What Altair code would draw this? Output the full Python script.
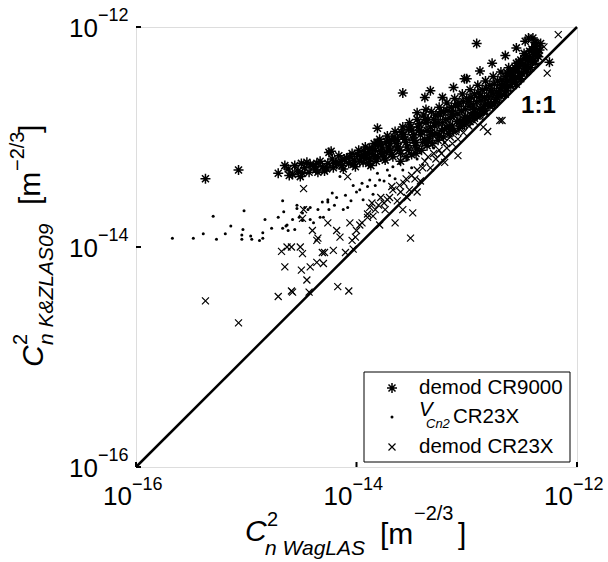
import altair as alt
import pandas as pd

# ---------------- data (log10 of the plotted values) ----------------
cr9000 = [
    (-15.37, -13.38), (-15.07, -13.30), (-14.71, -13.33), (-14.65, -13.26), (-14.61, -13.35),
    (-14.50, -13.24), (-14.49, -13.33), (-14.42, -13.25), (-14.36, -13.24), (-14.35, -13.32),
    (-14.27, -13.29), (-14.25, -13.14), (-14.23, -13.13), (-13.81, -12.92), (-13.81, -13.05),
    (-13.58, -12.60), (-13.38, -12.64), (-13.33, -12.58), (-13.37, -12.75), (-13.45, -12.78),
    (-13.02, -12.47), (-12.91, -12.15), (-12.44, -12.10), (-12.38, -12.14), (-12.25, -12.32),
    (-14.62, -13.29), (-14.58, -13.34), (-14.56, -13.26), (-14.53, -13.31), (-14.51, -13.36),
    (-14.47, -13.28), (-14.45, -13.23), (-14.43, -13.32), (-14.39, -13.27), (-14.37, -13.30),
    (-14.33, -13.22), (-14.31, -13.27), (-14.29, -13.31), (-14.26, -13.24), (-14.22, -13.20),
    (-14.21, -13.28), (-14.18, -13.25), (-14.16, -13.17), (-14.14, -13.22), (-14.12, -13.29),
    (-14.09, -13.19), (-14.07, -13.24), (-14.04, -13.15), (-14.02, -13.21), (-14.01, -13.27),
    (-13.98, -13.12), (-13.96, -13.18), (-13.94, -13.23), (-13.92, -13.09), (-13.90, -13.15),
    (-13.88, -13.20), (-13.87, -13.26), (-13.84, -13.06), (-13.83, -13.12), (-13.81, -13.18),
    (-13.79, -13.02), (-13.77, -13.09), (-13.76, -13.15), (-13.74, -13.21), (-13.72, -12.99),
    (-13.70, -13.06), (-13.69, -13.12), (-13.67, -13.18), (-13.65, -12.95), (-13.63, -13.02),
    (-13.62, -13.09), (-13.60, -13.15), (-13.58, -12.91), (-13.57, -12.98), (-13.55, -13.05),
    (-13.53, -13.12), (-13.52, -12.87), (-13.50, -12.94), (-13.49, -13.01), (-13.47, -13.08),
    (-13.45, -12.84), (-13.44, -12.91), (-13.42, -12.98), (-13.40, -13.05), (-13.39, -12.80),
    (-13.37, -12.87), (-13.36, -12.94), (-13.34, -13.01), (-13.32, -12.77), (-13.30, -12.84),
    (-13.29, -12.90), (-13.27, -12.97), (-13.25, -12.73), (-13.24, -12.80), (-13.22, -12.87),
    (-13.20, -12.93), (-13.18, -12.69), (-13.17, -12.76), (-13.15, -12.83), (-13.13, -12.90),
    (-13.11, -12.65), (-13.10, -12.72), (-13.08, -12.79), (-13.06, -12.86), (-13.04, -12.61),
    (-13.03, -12.68), (-13.01, -12.75), (-12.99, -12.82), (-12.97, -12.57), (-12.96, -12.64),
    (-12.94, -12.71), (-12.92, -12.78), (-12.90, -12.53), (-12.89, -12.60), (-12.87, -12.67),
    (-12.85, -12.74), (-12.83, -12.49), (-12.82, -12.56), (-12.80, -12.63), (-12.78, -12.70),
    (-12.76, -12.45), (-12.75, -12.52), (-12.73, -12.59), (-12.71, -12.62), (-12.69, -12.41),
    (-12.68, -12.48), (-12.66, -12.55), (-12.64, -12.55), (-12.62, -12.37), (-12.61, -12.44),
    (-12.59, -12.50), (-12.57, -12.48), (-12.55, -12.33), (-12.54, -12.40), (-12.52, -12.44),
    (-12.50, -12.42), (-12.48, -12.29), (-12.47, -12.36), (-12.45, -12.36), (-12.43, -12.22),
    (-12.42, -12.31), (-12.40, -12.31), (-12.38, -12.18), (-12.36, -12.26), (-12.35, -12.27),
    (-14.19, -13.23), (-14.13, -13.26), (-14.11, -13.20), (-14.06, -13.18), (-14.03, -13.25),
    (-13.99, -13.16), (-13.97, -13.22), (-13.93, -13.13), (-13.91, -13.19), (-13.89, -13.24),
    (-13.86, -13.10), (-13.85, -13.16), (-13.82, -13.22), (-13.80, -13.06), (-13.78, -13.13),
    (-13.75, -13.19), (-13.73, -13.04), (-13.71, -13.10), (-13.68, -13.16), (-13.66, -13.00),
    (-13.64, -13.06), (-13.61, -13.12), (-13.59, -12.96), (-13.56, -13.02), (-13.54, -13.09),
    (-13.51, -12.91), (-13.48, -12.98), (-13.46, -13.05), (-13.43, -12.88), (-13.41, -12.95),
    (-13.38, -13.02), (-13.35, -12.84), (-13.33, -12.91), (-13.31, -12.98), (-13.28, -12.80),
    (-13.26, -12.87), (-13.23, -12.94), (-13.21, -12.77), (-13.19, -12.84), (-13.16, -12.90),
    (-13.14, -12.73), (-13.12, -12.80), (-13.09, -12.86), (-13.07, -12.69), (-13.05, -12.76),
    (-13.02, -12.82), (-13.00, -12.65), (-12.98, -12.72), (-12.95, -12.78), (-12.93, -12.61),
    (-12.91, -12.68), (-12.88, -12.74), (-12.86, -12.57), (-12.84, -12.64), (-12.81, -12.70),
    (-12.79, -12.53), (-12.77, -12.60), (-12.74, -12.66), (-12.72, -12.49), (-12.70, -12.56),
    (-12.67, -12.52), (-12.65, -12.45), (-12.63, -12.49), (-12.60, -12.41), (-12.58, -12.45),
    (-12.56, -12.37), (-12.53, -12.36), (-12.51, -12.30), (-12.49, -12.34), (-12.46, -12.26),
    (-12.44, -12.30), (-12.41, -12.20), (-12.39, -12.25), (-12.37, -12.15), (-12.34, -12.21),
    (-12.33, -12.15),
    (-13.60, -13.22), (-13.55, -13.18), (-13.50, -13.16), (-13.46, -13.15), (-13.41, -13.12),
    (-13.36, -13.08), (-13.31, -13.06), (-13.26, -13.03), (-13.21, -13.00), (-13.16, -12.97),
    (-13.12, -12.95), (-13.07, -12.92), (-13.02, -12.89), (-12.97, -12.86), (-12.93, -12.83),
    (-12.88, -12.80), (-12.84, -12.76), (-12.79, -12.72), (-12.74, -12.68), (-12.69, -12.63),
    (-12.64, -12.58), (-12.60, -12.54), (-12.56, -12.50), (-12.51, -12.47), (-12.46, -12.41),
    (-12.42, -12.37), (-12.38, -12.33),
    (-13.22, -12.64), (-13.12, -12.55), (-13.00, -12.47), (-12.88, -12.40), (-12.77, -12.33),
    (-12.65, -12.26), (-12.55, -12.19), (-12.47, -12.13), (-12.40, -12.10),
    (-13.93, -13.17), (-13.88, -13.11), (-13.83, -13.19), (-13.78, -13.07), (-13.73, -13.14),
    (-13.68, -13.03), (-13.63, -13.11), (-13.58, -13.00), (-13.53, -12.93), (-13.48, -13.03),
    (-13.43, -12.94), (-13.38, -12.84), (-13.33, -12.96), (-13.28, -12.87), (-13.23, -12.77),
    (-13.18, -12.92), (-13.13, -12.79), (-13.08, -12.70), (-13.03, -12.84), (-12.98, -12.68),
    (-12.93, -12.75), (-12.88, -12.63), (-12.83, -12.70), (-12.78, -12.58), (-12.73, -12.64),
    (-12.68, -12.53), (-12.63, -12.42), (-12.58, -12.39), (-12.53, -12.32), (-12.48, -12.24),
    (-12.43, -12.27), (-12.38, -12.22),
    (-13.45, -13.11), (-13.35, -13.04), (-13.25, -12.99), (-13.15, -12.93), (-13.05, -12.88),
    (-12.95, -12.81), (-12.85, -12.77), (-12.75, -12.70), (-12.65, -12.61), (-12.55, -12.52),
    (-12.45, -12.40),
]

vcn2 = [
    (-15.67, -13.92), (-15.48, -13.92), (-15.39, -13.88), (-15.30, -13.72), (-15.27, -13.93),
    (-15.19, -13.88), (-15.14, -13.81), (-15.02, -13.67), (-15.03, -13.84), (-15.04, -13.89),
    (-15.04, -13.93), (-14.96, -13.90), (-14.95, -13.93), (-14.88, -13.94), (-14.85, -13.87),
    (-14.85, -13.92), (-14.83, -13.75), (-14.77, -13.83), (-14.71, -13.73), (-14.67, -13.58),
    (-14.66, -13.68), (-14.67, -13.83), (-14.64, -13.81), (-14.62, -13.85), (-14.63, -13.80),
    (-14.58, -13.75), (-14.56, -13.84), (-14.54, -13.62), (-14.54, -13.65), (-14.52, -13.73),
    (-14.49, -13.76), (-14.49, -13.69), (-14.47, -13.64), (-14.44, -13.66), (-14.42, -13.75),
    (-14.42, -13.64), (-14.39, -13.78), (-14.35, -13.66), (-14.33, -13.73), (-14.31, -13.59),
    (-14.30, -13.73), (-14.26, -13.59), (-14.26, -13.57), (-14.25, -13.66), (-14.22, -13.51),
    (-14.20, -13.62), (-14.18, -13.55), (-14.15, -13.36), (-14.12, -13.66), (-14.10, -13.53),
    (-14.08, -13.64), (-14.05, -13.58), (-14.03, -13.44), (-14.00, -13.50), (-13.97, -13.48),
    (-13.95, -13.42), (-13.94, -13.57), (-13.90, -13.45), (-13.88, -13.39), (-13.85, -13.52),
    (-13.83, -13.44), (-13.81, -13.33), (-13.79, -13.39), (-13.75, -13.40), (-13.72, -13.30),
    (-13.70, -13.35), (-13.67, -13.27), (-13.65, -13.38), (-13.61, -13.24), (-13.58, -13.30),
    (-13.54, -13.21), (-13.50, -13.28), (-13.45, -13.20), (-13.40, -13.25), (-13.30, -13.10),
    (-13.20, -13.05), (-13.10, -12.95), (-13.00, -12.85), (-12.90, -12.82), (-12.80, -12.65),
    (-12.70, -12.60),
]

cr23x = [
    (-15.37, -14.49), (-15.07, -14.69), (-14.71, -14.45), (-14.68, -14.04), (-14.63, -14.00),
    (-14.59, -14.00), (-14.65, -14.18), (-14.59, -14.40), (-14.58, -14.41), (-14.51, -14.00),
    (-14.49, -14.06), (-14.48, -13.47), (-14.50, -14.21), (-14.45, -14.30), (-14.43, -14.41),
    (-14.42, -14.18), (-14.40, -13.85), (-14.48, -13.66), (-14.35, -13.92), (-14.36, -14.14),
    (-14.30, -14.15), (-14.29, -14.05), (-14.26, -13.78), (-14.21, -14.03), (-14.17, -14.36),
    (-14.07, -14.40), (-14.10, -14.05), (-14.03, -14.02), (-14.04, -13.94), (-14.15, -13.91),
    (-14.49, -13.74), (-14.36, -13.94), (-14.31, -14.05), (-14.18, -13.85), (-14.06, -13.78),
    (-14.01, -13.91), (-13.97, -13.80), (-13.90, -13.73), (-13.88, -13.64), (-13.83, -13.66),
    (-13.79, -13.80), (-13.72, -13.57), (-13.67, -13.48), (-13.65, -13.78), (-13.61, -13.44),
    (-13.58, -13.66), (-13.51, -13.92), (-13.49, -13.69), (-13.54, -13.55), (-14.08, -13.36),
    (-12.17, -12.07), (-12.27, -12.42), (-12.38, -12.25), (-12.68, -12.85), (-12.81, -12.95),
    (-13.08, -13.17), (-13.45, -13.50), (-12.85, -12.91), (-13.20, -13.23), (-12.70, -12.85),
    (-14.00, -13.85), (-13.90, -13.70), (-13.85, -13.72), (-13.80, -13.62), (-13.75, -13.60),
    (-13.70, -13.55), (-13.60, -13.50), (-13.55, -13.38), (-13.50, -13.35), (-13.45, -13.30),
    (-13.40, -13.28), (-13.35, -13.18), (-13.30, -13.15), (-13.25, -13.12), (-13.20, -13.05),
    (-13.15, -13.00), (-13.10, -12.95), (-13.05, -12.92), (-13.00, -12.88), (-12.95, -12.82),
    (-12.90, -12.78), (-12.85, -12.72), (-12.80, -12.65), (-12.75, -12.62), (-12.70, -12.58),
    (-12.65, -12.50), (-12.60, -12.47), (-12.55, -12.40), (-12.50, -12.36), (-12.45, -12.30),
    (-12.40, -12.28), (-12.35, -12.20), (-12.30, -12.18),
    (-13.95, -13.78), (-13.86, -13.60), (-13.78, -13.55), (-13.74, -13.66), (-13.68, -13.45),
    (-13.63, -13.58), (-13.57, -13.42), (-13.52, -13.48), (-13.47, -13.38), (-13.42, -13.40),
    (-13.38, -13.22), (-13.33, -13.28), (-13.28, -13.20), (-13.23, -13.15), (-13.18, -13.10),
    (-13.13, -13.06), (-13.08, -13.02), (-13.03, -12.96), (-12.98, -12.90), (-12.93, -12.86),
    (-12.88, -12.82), (-12.83, -12.78), (-12.78, -12.72), (-12.73, -12.66), (-12.68, -12.62),
    (-12.63, -12.56), (-12.58, -12.52), (-12.53, -12.46), (-12.48, -12.40), (-12.43, -12.36),
    (-12.38, -12.32),
]

tick_values = [1e-16, 1e-14, 1e-12]
tick_exponents = ["\u221216", "\u221214", "\u221212"]
legend_labels = ["demod CR9000", "CR23X", "demod CR23X"]
one_to_one = [1e-16, 1e-12]
label_11 = {"text": "1:1", "x": 10.0 ** -12.35, "y": 10.0 ** -12.72}

# ---------------- helpers ----------------
W, H = 441, 440
FONT = "Liberation Sans"
xscale = alt.Scale(type="log", domain=[1e-16, 1e-12], nice=False)
yscale = alt.Scale(type="log", domain=[1e-16, 1e-12], nice=False)

ASTER = "M-1,0L1,0M0,-1L0,1M-0.7,-0.7L0.7,0.7M-0.7,0.7L0.7,-0.7"
XMARK = "M-1,-1L1,1M-1,1L1,-1"
ASTER_SIZE, X_SIZE, DOT_SIZE = 100, 49, 9


def frame(pairs):
    df = pd.DataFrame(pairs, columns=["lx", "ly"]).astype(float)
    df["x"] = 10.0 ** df["lx"]
    df["y"] = 10.0 ** df["ly"]
    return df


def X(field="x"):
    return alt.X(f"{field}:Q", scale=xscale, axis=None)


def Y(field="y"):
    return alt.Y(f"{field}:Q", scale=yscale, axis=None)


one = pd.DataFrame({"d": [0]})


def txt(text, x, y, size, italic=False, bold=False, angle=0, align="left", baseline="alphabetic"):
    kw = dict(text=text, font=FONT, fontSize=size, color="black", align=align, baseline=baseline)
    if italic:
        kw["fontStyle"] = "italic"
    if bold:
        kw["fontWeight"] = "bold"
    if angle:
        kw["angle"] = angle
    return alt.Chart(one).mark_text(**kw).encode(x=alt.value(x), y=alt.value(y))


# ---------------- layers ----------------
axes = alt.Chart(frame([(-16, -16), (-12, -12)])).mark_point(opacity=0).encode(
    x=alt.X("x:Q", scale=xscale, axis=alt.Axis(labels=False, ticks=False, grid=False, title=None,
                                               domainColor="black", domainWidth=2.5)),
    y=alt.Y("y:Q", scale=yscale, axis=alt.Axis(labels=False, ticks=False, grid=False, title=None,
                                               domainColor="black", domainWidth=2.5)),
)

diag = alt.Chart(pd.DataFrame({"x": one_to_one, "y": one_to_one})).mark_line(
    color="black", strokeWidth=2.5).encode(x=X(), y=Y())

p9000 = alt.Chart(frame(cr9000)).mark_point(
    shape=ASTER, filled=False, size=ASTER_SIZE, strokeWidth=1.5, color="black", opacity=1
).encode(x=X(), y=Y())

pv = alt.Chart(frame(vcn2)).mark_point(
    shape="circle", filled=True, size=DOT_SIZE, color="black", opacity=1
).encode(x=X(), y=Y())

p23 = alt.Chart(frame(cr23x)).mark_point(
    shape=XMARK, filled=False, size=X_SIZE, strokeWidth=1.2, color="black", opacity=1
).encode(x=X(), y=Y())

ticks_df = pd.DataFrame({"v": tick_values, "e": tick_exponents})
xticks = alt.Chart(ticks_df).mark_rule(color="black", strokeWidth=2).encode(
    x=alt.X("v:Q", scale=xscale, axis=None), y=alt.value(H), y2=alt.value(H - 5))
yticks = alt.Chart(ticks_df).mark_rule(color="black", strokeWidth=2).encode(
    y=alt.Y("v:Q", scale=yscale, axis=None), x=alt.value(0), x2=alt.value(5))

xlab10 = alt.Chart(ticks_df).mark_text(text="10", font=FONT, fontSize=26, align="right",
                                       baseline="middle", dx=-4).encode(
    x=alt.X("v:Q", scale=xscale, axis=None), y=alt.value(470))
xlabe = alt.Chart(ticks_df).mark_text(font=FONT, fontSize=18, align="left",
                                      baseline="middle", dx=-4).encode(
    x=alt.X("v:Q", scale=xscale, axis=None), y=alt.value(458), text="e:N")
ylab10 = alt.Chart(ticks_df).mark_text(text="10", font=FONT, fontSize=26, align="right",
                                       baseline="middle", dy=2).encode(
    y=alt.Y("v:Q", scale=yscale, axis=None), x=alt.value(-38))
ylabe = alt.Chart(ticks_df).mark_text(font=FONT, fontSize=18, align="left",
                                      baseline="middle", dy=-11).encode(
    y=alt.Y("v:Q", scale=yscale, axis=None), x=alt.value(-38), text="e:N")

lbl11 = alt.Chart(pd.DataFrame([label_11])).mark_text(
    font=FONT, fontSize=24, fontWeight="bold", align="center", baseline="middle").encode(
    x=alt.X("x:Q", scale=xscale, axis=None), y=alt.Y("y:Q", scale=yscale, axis=None), text="text:N")

# x title: C^2_{n WagLAS} [m^{-2/3}]
xt = [
    txt("C", 109, 514, 30, italic=True),
    txt("2", 131, 499, 20),
    txt("n WagLAS", 129, 528, 21, italic=True),
    txt("[m", 244, 517, 30),
    txt("\u22122/3", 278, 493, 20),
    txt("]", 322, 517, 30),
]
# y title rotated
yt = [
    txt("C", -93, 340, 30, italic=True, angle=270),
    txt("2", -109, 318, 20, angle=270),
    txt("n K&ZLAS09", -83, 318, 21, italic=True, angle=270),
    txt("[m", -96, 178, 30, angle=270),
    txt("\u22122/3", -112, 144, 20, angle=270),
    txt("]", -96, 106, 30, angle=270),
]

# legend
box = alt.Chart(one).mark_rect(fill="white", stroke="black", strokeWidth=1).encode(
    x=alt.value(228), x2=alt.value(434), y=alt.value(345), y2=alt.value(435))
leg_a = alt.Chart(one).mark_point(shape=ASTER, filled=False, size=ASTER_SIZE, strokeWidth=1.5,
                                  color="black", opacity=1).encode(x=alt.value(256), y=alt.value(361))
leg_d = alt.Chart(one).mark_point(shape="circle", filled=True, size=DOT_SIZE, color="black",
                                  opacity=1).encode(x=alt.value(256), y=alt.value(390))
leg_x = alt.Chart(one).mark_point(shape=XMARK, filled=False, size=X_SIZE, strokeWidth=1.2,
                                  color="black", opacity=1).encode(x=alt.value(256), y=alt.value(420))
leg_t = [
    txt(legend_labels[0], 283, 361, 20.5, baseline="middle"),
    txt("V", 283, 383, 20.5, italic=True, baseline="middle"),
    txt("Cn2", 290, 397, 13, italic=True, baseline="middle"),
    txt(legend_labels[1], 317, 390, 20.5, baseline="middle"),
    txt(legend_labels[2], 283, 420, 20.5, baseline="middle"),
]

chart = alt.layer(
    axes, diag, p9000, pv, p23, xticks, yticks, xlab10, xlabe, ylab10, ylabe, lbl11,
    *xt, *yt, box, leg_a, leg_d, leg_x, *leg_t
).properties(
    width=W, height=H, autosize="none",
    padding={"left": 136, "top": 27, "right": 31, "bottom": 95},
).configure_view(strokeWidth=0).configure(background="white")

chart.save("out.html", embed_options={"renderer": "svg", "actions": False})
